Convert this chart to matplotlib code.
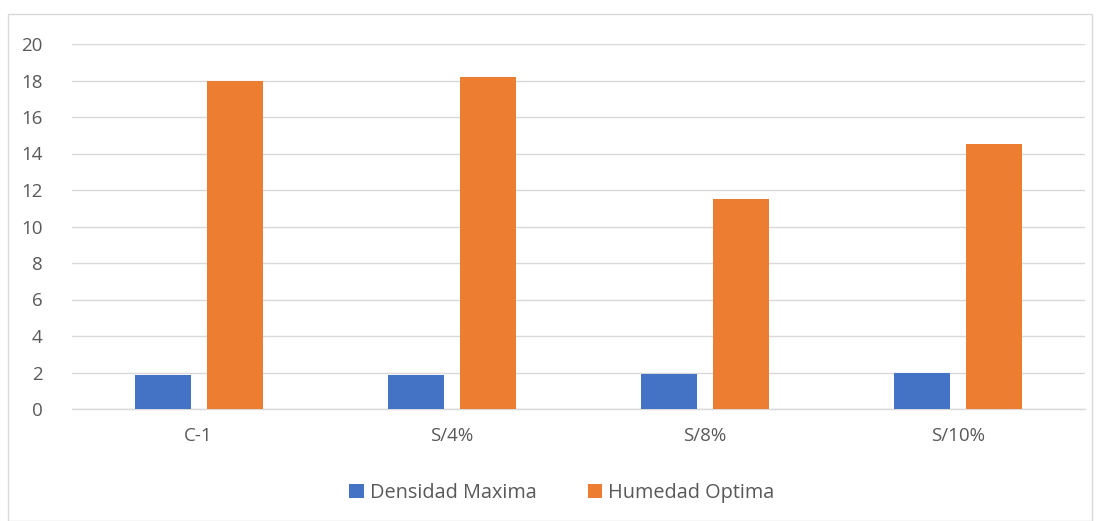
import matplotlib
matplotlib.use("Agg")
import matplotlib.pyplot as plt
from matplotlib.patches import Rectangle
import numpy as np

categories = ["C-1", "S/4%", "S/8%", "S/10%"]
densidad = [1.86, 1.86, 1.92, 1.95]
humedad = [18.0, 18.2, 11.5, 14.5]
series_names = ["Densidad Maxima", "Humedad Optima"]
colors = ["#4472C4", "#ED7D31"]
yticks = list(range(0, 21, 2))

W, H = 1099, 521
fig = plt.figure(figsize=(W / 100, H / 100), dpi=100)
plt.rcParams['font.family'] = ['Open Sans', 'DejaVu Sans']

# outer chart border
fig.patches.append(Rectangle((8 / W, 0), (1092 - 8) / W, (H - 14) / H,
                             transform=fig.transFigure, fill=False,
                             edgecolor="#D9D9D9", linewidth=1))

ax = fig.add_axes([72 / W, (H - 409) / H, (1085 - 72) / W, (409 - 44) / H])
x = np.arange(len(categories))
bw = 0.221
off = 0.142
ax.bar(x - off, densidad, bw, color=colors[0], label=series_names[0], zorder=3)
ax.bar(x + off, humedad, bw, color=colors[1], label=series_names[1], zorder=3)

ax.set_xlim(-0.5, len(categories) - 0.5)
ax.set_ylim(0, 20)
ax.set_yticks(yticks)
ax.set_xticks(x)
ax.set_xticklabels(categories)
ax.yaxis.grid(True, color="#D9D9D9", linewidth=1, zorder=0)
ax.set_axisbelow(True)
for s in ["top", "right", "left"]:
    ax.spines[s].set_visible(False)
ax.spines["bottom"].set_color("#D9D9D9")
ax.spines["bottom"].set_linewidth(1)
ax.tick_params(axis="both", length=0, colors="#595959", labelsize=13.5)
ax.tick_params(axis="y", pad=21)
ax.tick_params(axis="x", pad=13)

leg = fig.legend(loc="center", bbox_to_anchor=(562 / W, (H - 493) / H), ncol=2,
                 frameon=False, fontsize=14.3, handlelength=0.72, handleheight=0.72,
                 columnspacing=2.6, handletextpad=0.3)
for t in leg.get_texts():
    t.set_color("#595959")

fig.savefig("out.png", dpi=100)
